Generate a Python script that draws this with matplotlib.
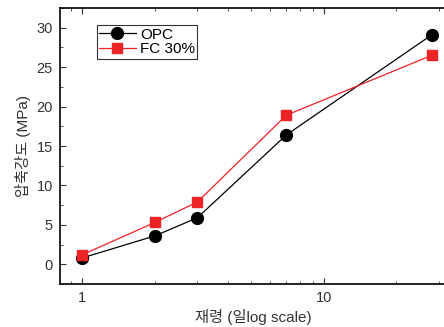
import numpy as np
import matplotlib.pyplot as plt
from matplotlib.ticker import MultipleLocator, FixedLocator, NullFormatter

plt.rcParams['font.family'] = ['Liberation Sans', 'Noto Sans CJK KR']

days = [1, 2, 3, 7, 28]
opc = [0.8, 3.6, 5.9, 16.4, 29.1]
fc30 = [1.2, 5.3, 7.9, 18.9, 26.5]

fig = plt.figure(figsize=(4.44, 3.27), dpi=100)
ax = fig.add_axes([0.135, 0.1315, 0.872, 0.844])

ax.plot(days, opc, '-o', color='black', lw=0.9, ms=8.5, label='OPC')
ax.plot(days, fc30, '-s', color='#ee2326', lw=0.9, ms=7.5, label='FC 30%')

ax.set_xscale('log')
ax.set_xlim(0.81, 32.4)
ax.set_ylim(-2.5, 32.5)
ax.xaxis.set_major_locator(FixedLocator([1, 10]))
ax.xaxis.set_minor_locator(FixedLocator([0.9, 2, 3, 4, 5, 6, 7, 8, 9, 20, 30]))
ax.xaxis.set_minor_formatter(NullFormatter())
ax.set_xticklabels(['1', '10'])
ax.yaxis.set_major_locator(MultipleLocator(5))
ax.yaxis.set_minor_locator(MultipleLocator(2.5))

ax.tick_params(which='both', direction='in', top=True, right=False,
               labelsize=10.5, colors='#333333', labelcolor='#333333')
ax.tick_params(which='major', length=4.5, pad=5)
ax.tick_params(which='minor', length=2.5)
for s in ax.spines.values():
    s.set_linewidth(1.2)

ax.set_xlabel('재령 (일log scale)', fontsize=11, color='#333333', labelpad=3)
ax.set_ylabel('압축강도 (MPa)', fontsize=11, color='#333333', labelpad=4)

leg = ax.legend(loc='upper left', bbox_to_anchor=(0.075, 0.965), fontsize=11,
                frameon=True, fancybox=False, edgecolor='black',
                handlelength=2.4, borderpad=0.15, labelspacing=0.05,
                handletextpad=0.3)
leg.get_frame().set_linewidth(0.8)

fig.savefig('out.png', dpi=100)
